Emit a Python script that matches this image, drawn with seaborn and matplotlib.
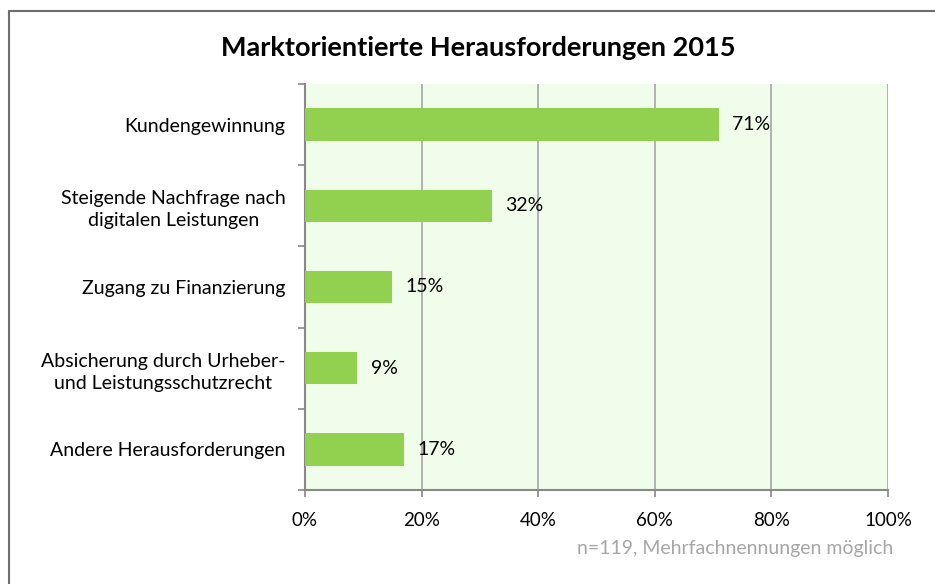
import pandas as pd
import seaborn as sns
import matplotlib.pyplot as plt
from matplotlib.lines import Line2D

categories = [
    "Kundengewinnung",
    "Steigende Nachfrage nach\ndigitalen Leistungen",
    "Zugang zu Finanzierung",
    "Absicherung durch Urheber-\nund Leistungsschutzrecht",
    "Andere Herausforderungen",
]
values = [71, 32, 15, 9, 17]
x_ticks = [0, 20, 40, 60, 80, 100]
x_tick_labels = ["0%", "20%", "40%", "60%", "80%", "100%"]

df = pd.DataFrame({"category": categories, "value": values})

sns.set_theme(style="white")
plt.rcParams["font.family"] = ["Lato", "DejaVu Sans"]

fig = plt.figure(figsize=(9.35, 5.84), dpi=100)
ax = fig.add_axes([0.3262, 0.161, 0.6235, 0.6952])
ax.set_facecolor("#effdea")

sns.barplot(data=df, x="value", y="category", color="#92d050", width=0.4,
            saturation=1, linewidth=0, ax=ax, zorder=3)

ax.set_xlim(0, 100)
ax.set_ylim(4.5, -0.5)
ax.set_xticks(x_ticks)
ax.set_xticklabels(x_tick_labels, fontsize=13.5, color="black")
ax.tick_params(axis="x", length=5, width=1.2, color="#888888", direction="out", pad=11, bottom=True)
ax.tick_params(axis="y", length=0, pad=14, labelsize=14, labelcolor="black")
ax.set_yticks(range(len(categories)), minor=False)
ax.set_yticks([i - 0.5 for i in range(len(categories) + 1)], minor=True)
ax.tick_params(axis="y", which="minor", length=5, width=1.2, color="#888888", direction="out", left=True)
for lbl in ax.get_yticklabels():
    lbl.set_multialignment("center")
    lbl.set_linespacing(1.35)
ax.set_xlabel("")
ax.set_ylabel("")

ax.grid(axis="x", color="#a6a6a6", linewidth=1.2, zorder=1)
ax.set_axisbelow(True)
ax.spines["top"].set_visible(False)
ax.spines["right"].set_visible(False)
ax.spines["left"].set_color("#888888")
ax.spines["left"].set_linewidth(1.5)
ax.spines["bottom"].set_color("#888888")
ax.spines["bottom"].set_linewidth(1.5)

for i, v in enumerate(values):
    ax.text(v + 2.3, i, f"{v}%", va="center", ha="left", fontsize=14, color="black")

fig.text(0.512, 0.918, "Marktorientierte Herausforderungen 2015", ha="center", va="center",
         fontsize=19.5, fontweight="bold", color="black")
fig.text(0.955, 0.06, "n=119, Mehrfachnennungen möglich", ha="right", va="center",
         fontsize=14, color="#a6a6a6")

fig.add_artist(Line2D([0.0096, 1.0], [0.981, 0.981], color="#6e6e6e", linewidth=1.5,
                      transform=fig.transFigure))
fig.add_artist(Line2D([0.0096, 0.0096], [0.0, 0.981], color="#6e6e6e", linewidth=1.5,
                      transform=fig.transFigure))

fig.savefig("out.png", dpi=100)
